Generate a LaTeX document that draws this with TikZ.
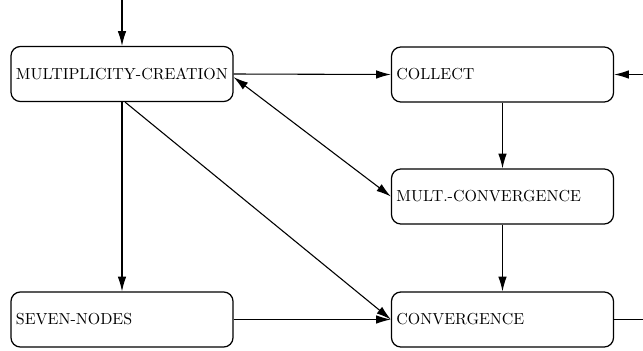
\documentclass[tikz,border=0pt]{standalone}
\usetikzlibrary{arrows.meta}
\begin{document}
\begin{tikzpicture}[x=0.645pt,y=-0.645pt,
  stbox/.style={draw,line width=0.8pt,rounded corners=6pt,minimum width=222*0.645pt,minimum height=55*0.645pt,
    text width=222*0.645pt-6.4pt,inner xsep=3.2pt,align=left,font=\fontsize{10.3}{12}\selectfont},
  conn/.style={line width=0.7pt,-{Latex[length=9.5pt,width=5.5pt]}},
  dconn/.style={line width=0.7pt,{Latex[length=9.5pt,width=5.5pt]}-{Latex[length=9.5pt,width=5.5pt]}},
  plain/.style={line width=0.7pt}]
\useasboundingbox (0,0) rectangle (643,350);
\node[stbox] (mc) at (122,74) {MULTIPLICITY-CREATION};
\node[stbox] (col) at (502.5,74.5) {COLLECT};
\node[stbox] (mcv) at (502.5,196.5) {MULT.-CONVERGENCE};
\node[stbox] (sn) at (122,319.5) {SEVEN-NODES};
\node[stbox] (cv) at (502.5,319.5) {CONVERGENCE};
\coordinate (top) at (122,0);
\coordinate (rin) at (643,74.5);
\coordinate (rout) at (643,319.5);
\draw[conn] (top) -- (mc.north);
\draw[conn] (mc.east) -- (col.west);
\draw[conn] (rin) -- (col.east);
\draw[conn] (col.south) -- (mcv.north);
\draw[dconn] ([yshift=-2pt]mc.east) -- (mcv.west);
\draw[conn] ([xshift=2pt]mc.south) -- (cv.west);
\draw[conn] (mc.south) -- (sn.north);
\draw[conn] (sn.east) -- (cv.west);
\draw[conn] (mcv.south) -- (cv.north);
\draw[plain] (cv.east) -- (rout);
\end{tikzpicture}
\end{document}
